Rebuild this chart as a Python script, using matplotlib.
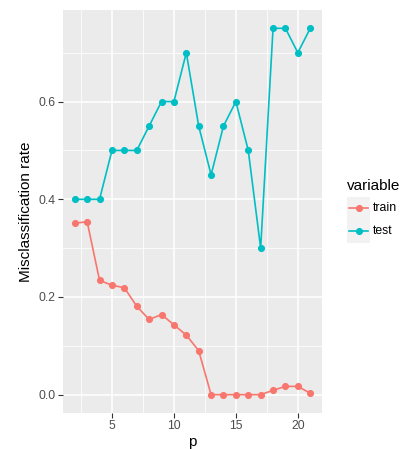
import matplotlib
matplotlib.use("Agg")
import matplotlib.pyplot as plt
from matplotlib.patches import Rectangle
from matplotlib.ticker import MultipleLocator

# Misclassification rate by number of predictors p
p = list(range(2, 22))
train = [0.351, 0.354, 0.234, 0.224, 0.219, 0.181, 0.154, 0.164, 0.143, 0.122,
         0.090, 0.0, 0.0, 0.0, 0.0, 0.0, 0.009, 0.017, 0.017, 0.003]
test = [0.40, 0.40, 0.40, 0.50, 0.50, 0.50, 0.55, 0.60, 0.60, 0.70,
        0.55, 0.45, 0.55, 0.60, 0.50, 0.30, 0.75, 0.75, 0.70, 0.75]
series = ["train", "test"]
colors = {"train": "#F8766D", "test": "#00BFC4"}

plt.rcParams['font.family'] = ['Liberation Sans', 'DejaVu Sans']

W, H = 412, 449
fig = plt.figure(figsize=(W / 100, H / 100), dpi=100)
ax = fig.add_axes([63 / W, 1 - 413 / H, (322 - 63) / W, (413 - 10) / H])
ax.set_facecolor("#EBEBEB")
for s in ax.spines.values():
    s.set_visible(False)

for name, vals in zip(series, [train, test]):
    ax.plot(p, vals, color=colors[name], lw=1.2, marker="o", ms=4.1,
            label=name, zorder=3)

ax.set_xlim(1.05, 21.95)
ax.set_ylim(-0.0375, 0.7875)
ax.xaxis.set_major_locator(MultipleLocator(5))
ax.xaxis.set_minor_locator(MultipleLocator(2.5))
ax.yaxis.set_major_locator(MultipleLocator(0.2))
ax.yaxis.set_minor_locator(MultipleLocator(0.1))
ax.yaxis.set_major_formatter(matplotlib.ticker.FormatStrFormatter("%.1f"))
ax.grid(which="major", color="white", lw=1.1, zorder=0)
ax.grid(which="minor", color="white", lw=0.55, zorder=0)
ax.set_axisbelow(True)
ax.tick_params(which="major", length=3.3, width=0.8, color="#333333",
               labelsize=8.8, labelcolor="#4D4D4D", pad=2)
ax.tick_params(which="minor", length=0)

ax.set_xlabel("p", fontsize=11, labelpad=2)
ax.set_ylabel("Misclassification rate", fontsize=11, labelpad=4)

# legend: title, then one 23 px grey key per series
fig.text(347 / W, 1 - 186 / H, "variable", fontsize=11, va="center", ha="left")
key = 23
for i, name in enumerate(series):
    top = 197 + i * key
    fig.add_artist(Rectangle((347 / W, 1 - (top + key) / H), key / W, key / H,
                             transform=fig.transFigure, facecolor="#F2F2F2",
                             edgecolor="none"))
    yc = 1 - (top + key / 2) / H
    fig.add_artist(plt.Line2D([349 / W, 368 / W], [yc, yc],
                              transform=fig.transFigure, color=colors[name],
                              lw=1.2))
    fig.add_artist(plt.Line2D([358.5 / W], [yc], transform=fig.transFigure,
                              color=colors[name], marker="o", ms=4.1))
    fig.text(373 / W, yc, name, fontsize=8.8, va="center", ha="left")

fig.savefig("out.png", dpi=100)
